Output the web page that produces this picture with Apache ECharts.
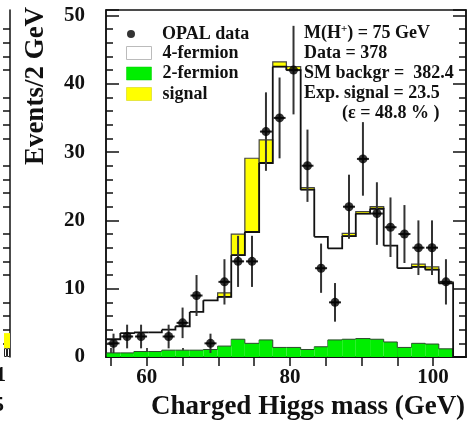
<!DOCTYPE html>
<html>
<head>
<meta charset="utf-8">
<script src="https://cdn.jsdelivr.net/npm/echarts@6/dist/echarts.min.js"></script>
<style>
  html, body { margin: 0; padding: 0; background: #fff; }
  #chart { width: 470px; height: 424px; }
</style>
</head>
<body>
<div id="chart"></div>
<script>
// bin edges in GeV (25 bins)
const binEdges = [54.4, 56.3, 58.2, 60.2, 62.1, 64.0, 66.0, 67.9, 69.9, 71.8, 73.7, 75.7, 77.6,
                  79.5, 81.5, 83.4, 85.3, 87.3, 89.2, 91.2, 93.1, 95.0, 97.0, 98.9, 100.8, 102.8];
// events per bin
const opalData     = [2, 3, 3, 0, 3, 5, 9, 2, 11, 14, 14, 33, 35, 42, 28, 13, 8, 22, 29, 21, 19, 18, 16, 16, 11];
const twoFermion   = [0.6, 0.6, 0.8, 0.8, 1.0, 1.0, 1.0, 1.1, 1.6, 2.6, 2.0, 2.5, 1.4, 1.4, 1.1, 1.5, 2.5, 2.6, 2.7, 2.6, 2.2, 1.4, 2.0, 1.9, 1.2];
const smBackground = [2.6, 3.5, 3.6, 3.6, 4.0, 4.5, 6.6, 8.3, 8.8, 14.9, 18.3, 28.4, 42.5, 42.0, 24.5, 17.6, 15.9, 17.7, 21.0, 21.7, 16.3, 13.0, 13.2, 12.8, 10.8];
const signal       = [0, 0, 0, 0, 0, 0, 0, 0, 0.6, 3.1, 10.8, 3.4, 0.7, 0.5, 0.3, 0, 0, 0.4, 0.3, 0.3, 0, 0, 0.4, 0.4, 0.2];

const xLabelValues = [60, 80, 100];
const xTickValues = [55, 60, 65, 70, 75, 80, 85, 90, 95, 100];

// the edge of the neighbouring panel that shows at the far left
const neighbourBins = ['a', 'b'];
const neighbourBkg = [1.3, 1.3];
const neighbourSignal = [2.2, 2.2];

const FONT = '"Liberation Serif", "DejaVu Serif", serif';
const GREEN = '#00ee00';
const YELLOW = '#ffff00';

const chart = echarts.init(document.getElementById('chart'));

function binRows(values) {
    return values.map((v, i) => [binEdges[i], binEdges[i + 1], v]);
}

// top edge of bin i plus the drop/rise to the next bin
function stepPoints(values, i, api) {
    const next = i + 1 < values.length ? values[i + 1] : 0;
    return [
        api.coord([binEdges[i], values[i]]),
        api.coord([binEdges[i + 1], values[i]]),
        api.coord([binEdges[i + 1], next])
    ];
}

function barRect(api, x0, x1, y0, y1) {
    const a = api.coord([x0, y0]);
    const b = api.coord([x1, y1]);
    return { x: a[0], y: b[1], width: b[0] - a[0], height: a[1] - b[1] };
}

const axisFont = { fontFamily: FONT, fontWeight: 'bold', fontSize: 21, color: '#111' };
const lineStyle = { color: '#111', width: 1.5 };

function yAxisDef(position, gridIndex, labels) {
    return {
        type: 'value', gridIndex: gridIndex, position: position, min: 0, max: 50.8, interval: 10,
        axisLine: { show: true, lineStyle: lineStyle },
        axisTick: { inside: true, length: 13, lineStyle: lineStyle },
        minorTick: { show: true, splitNumber: 5, length: 7, lineStyle: lineStyle },
        axisLabel: labels ? Object.assign({ margin: 21, showMaxLabel: false }, axisFont) : { show: false },
        splitLine: { show: false }
    };
}

const option = {
    animation: false,
    grid: [
        { left: 106, top: 10, right: 4, bottom: 67, show: true, borderColor: '#111', borderWidth: 1.5 },
        { left: -20, top: 10, right: 466, bottom: 67 }
    ],
    xAxis: [
        {
            type: 'value', position: 'bottom', min: 54.3, max: 104.6,
            axisLine: { lineStyle: lineStyle },
            axisTick: { inside: true, length: 9, customValues: xTickValues, lineStyle: lineStyle },
            axisLabel: Object.assign({ customValues: xLabelValues, margin: 10 }, axisFont),
            splitLine: { show: false }
        },
        {
            type: 'value', position: 'top', min: 54.3, max: 104.6,
            axisLine: { lineStyle: lineStyle },
            axisTick: { inside: true, length: 9, customValues: xTickValues, lineStyle: lineStyle },
            axisLabel: { show: false },
            splitLine: { show: false }
        },
        {
            type: 'category', gridIndex: 1, data: neighbourBins, show: false
        }
    ],
    yAxis: [
        yAxisDef('left', 0, true),
        yAxisDef('right', 0, false),
        yAxisDef('right', 1, false)
    ],
    legend: [
        {
            orient: 'vertical', left: 122, top: 20,
            itemWidth: 26, itemHeight: 8,
            data: [{ name: 'OPAL data', icon: 'circle' }],
            textStyle: { fontFamily: FONT, fontWeight: 'bold', fontSize: 18, color: '#111', padding: [0, 0, 0, 13] }
        },
        {
            orient: 'vertical', left: 121, top: 38, itemGap: 0.5,
            itemWidth: 25, itemHeight: 13,
            data: [
                { name: '4-fermion', icon: 'rect', itemStyle: { color: '#fff', borderColor: '#bbb', borderWidth: 1 } },
                { name: '2-fermion', icon: 'rect', itemStyle: { color: GREEN, borderColor: '#0c0', borderWidth: 0.5 } },
                { name: 'signal', icon: 'rect', itemStyle: { color: YELLOW, borderColor: '#cc0', borderWidth: 0.5 } }
            ],
            textStyle: { fontFamily: FONT, fontWeight: 'bold', fontSize: 18, color: '#111', lineHeight: 20, padding: [0, 0, 0, 6] }
        }
    ],
    series: [
        {
            name: '2-fermion', type: 'custom', clip: true,
            itemStyle: { color: GREEN },
            data: binRows(twoFermion),
            encode: { x: [0, 1], y: 2 },
            renderItem: function (params, api) {
                const i = params.dataIndex;
                return {
                    type: 'group',
                    children: [
                        { type: 'rect', shape: barRect(api, binEdges[i], binEdges[i + 1], 0, twoFermion[i]), style: { fill: GREEN } },
                        { type: 'polyline', shape: { points: stepPoints(twoFermion, i, api) }, style: { stroke: '#2b4a2b', lineWidth: 1, fill: null } }
                    ]
                };
            }
        },
        {
            name: 'signal', type: 'custom', clip: true,
            itemStyle: { color: YELLOW },
            data: binRows(signal),
            encode: { x: [0, 1], y: 2 },
            renderItem: function (params, api) {
                const i = params.dataIndex;
                if (!signal[i]) return null;
                return {
                    type: 'rect',
                    shape: barRect(api, binEdges[i], binEdges[i + 1], smBackground[i], smBackground[i] + signal[i]),
                    style: { fill: YELLOW, stroke: '#444', lineWidth: 1.2 }
                };
            }
        },
        {
            name: '4-fermion', type: 'custom', clip: true,
            itemStyle: { color: '#fff' },
            data: binRows(smBackground),
            encode: { x: [0, 1], y: 2 },
            renderItem: function (params, api) {
                const i = params.dataIndex;
                return {
                    type: 'polyline',
                    shape: { points: stepPoints(smBackground, i, api) },
                    style: { stroke: '#111', lineWidth: 1.8, fill: null }
                };
            }
        },
        {
            name: 'errors', type: 'custom', clip: true, z: 3,
            data: opalData.map((n, i) => [(binEdges[i] + binEdges[i + 1]) / 2, n]).filter(d => d[1] > 0),
            encode: { x: 0, y: 1 },
            renderItem: function (params, api) {
                const x = api.value(0), n = api.value(1), err = Math.sqrt(n);
                const top = api.coord([x, n + err]);
                const bot = api.coord([x, n - err]);
                const mid = api.coord([x, n]);
                return {
                    type: 'group',
                    children: [
                        { type: 'line', shape: { x1: top[0], y1: top[1], x2: bot[0], y2: bot[1] }, style: { stroke: '#333', lineWidth: 2 } },
                        { type: 'line', shape: { x1: mid[0] - 6, y1: mid[1], x2: mid[0] + 6, y2: mid[1] }, style: { stroke: '#222', lineWidth: 2 } }
                    ]
                };
            }
        },
        {
            name: 'OPAL data', type: 'scatter', z: 4,
            symbol: 'circle', symbolSize: 9,
            itemStyle: { color: '#000' },
            data: opalData.map((n, i) => [(binEdges[i] + binEdges[i + 1]) / 2, n]).filter(d => d[1] > 0)
        },
        {
            name: 'neighbour bkg', type: 'bar', xAxisIndex: 2, yAxisIndex: 2, stack: 'nb',
            barCategoryGap: 0, data: neighbourBkg,
            itemStyle: { color: '#fff', borderColor: '#222', borderWidth: 1 }
        },
        {
            name: 'neighbour signal', type: 'bar', xAxisIndex: 2, yAxisIndex: 2, stack: 'nb',
            barCategoryGap: 0, data: neighbourSignal,
            itemStyle: { color: YELLOW }
        }
    ],
    graphic: [
        {
            type: 'text', x: 36, y: 86, rotation: Math.PI / 2,
            style: { text: 'Events/2 GeV', font: 'bold 27px ' + FONT, align: 'center', verticalAlign: 'middle', fill: '#111' }
        },
        {
            type: 'text', x: 308, y: 407,
            style: { text: 'Charged Higgs mass (GeV)', font: 'bold 27px ' + FONT, align: 'center', verticalAlign: 'middle', fill: '#111' }
        },
        { type: 'text', x: 6, y: 376, style: { text: '1', font: 'bold 21px ' + FONT, align: 'right', verticalAlign: 'middle', fill: '#111' } },
        { type: 'text', x: 4, y: 406, style: { text: '5', font: 'bold 21px ' + FONT, align: 'right', verticalAlign: 'middle', fill: '#111' } },
        {
            type: 'text', x: 304, y: 33,
            style: {
                text: 'M(H{sup|+}) = 75 GeV', font: 'bold 18px ' + FONT, verticalAlign: 'middle', fill: '#111',
                rich: { sup: { font: 'bold 11px ' + FONT, verticalAlign: 'bottom', padding: [0, 0, 8, 0] } }
            }
        },
        { type: 'text', x: 304, y: 53, style: { text: 'Data = 378', font: 'bold 18px ' + FONT, verticalAlign: 'middle', fill: '#111' } },
        { type: 'text', x: 304, y: 73, style: { text: 'SM backgr =  382.4', font: 'bold 18px ' + FONT, verticalAlign: 'middle', fill: '#111' } },
        { type: 'text', x: 304, y: 93, style: { text: 'Exp. signal = 23.5', font: 'bold 18px ' + FONT, verticalAlign: 'middle', fill: '#111' } },
        { type: 'text', x: 342, y: 113, style: { text: '(\u03b5 = 48.8 % )', font: 'bold 18px ' + FONT, verticalAlign: 'middle', fill: '#111' } }
    ]
};

chart.setOption(option);
</script>
</body>
</html>
